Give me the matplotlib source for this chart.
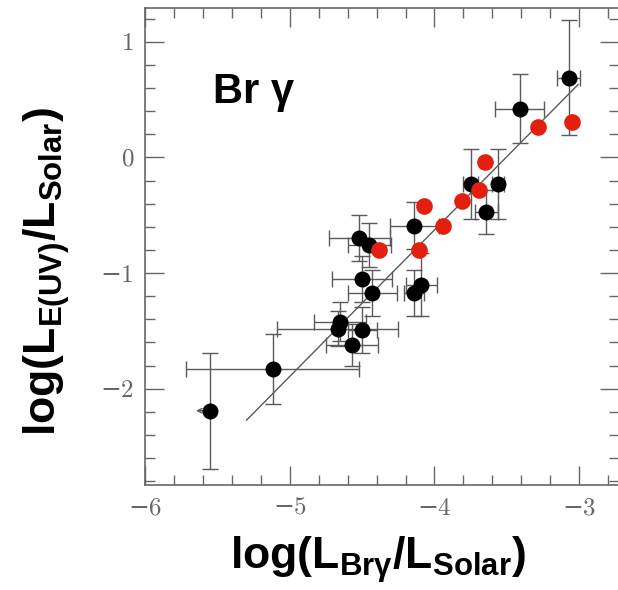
""" Br gamma vs E(UV) luminosity """
import numpy as np
import matplotlib
matplotlib.use("Agg")
import matplotlib.pyplot as plt

# black points (with error bars)
black_x = [-5.55, -5.12, -4.65, -4.67, -4.50, -4.57, -4.50, -4.43, -4.09, -4.14,
           -4.52, -4.45, -4.14, -3.75, -3.56, -3.64, -3.41, -3.07]
black_y = [-2.19, -1.83, -1.42, -1.48, -1.49, -1.62, -1.05, -1.17, -1.10, -1.17,
           -0.70, -0.76, -0.59, -0.23, -0.23, -0.47, 0.42, 0.69]
black_xerr = [0.0, 0.60, 0.18, 0.42, 0.10, 0.18, 0.21, 0.17, 0.11, 0.07,
              0.21, 0.15, 0.17, 0.05, 0.04, 0.08, 0.17, 0.08]
black_yerr = [0.50, 0.30, 0.17, 0.15, 0.20, 0.18, 0.20, 0.20, 0.27, 0.20,
              0.20, 0.19, 0.20, 0.30, 0.30, 0.19, 0.30, 0.50]
# first point is an upper limit in x
limit_index = 0

# red points
red_x = [-4.38, -4.11, -4.07, -3.94, -3.81, -3.69, -3.65, -3.28, -3.05]
red_y = [-0.80, -0.80, -0.42, -0.59, -0.38, -0.28, -0.04, 0.26, 0.31]

# fitted line
fit_slope = 1.264
fit_intercept = 4.428
fit_xrange = [-5.30, -3.005]

x_ticks = [-6, -5, -4, -3]
y_ticks = [-2, -1, 0, 1]

plt.rcParams['mathtext.fontset'] = 'custom'
plt.rcParams['mathtext.rm'] = 'Liberation Sans:bold'
plt.rcParams['mathtext.it'] = 'Liberation Sans:bold'
plt.rcParams['mathtext.bf'] = 'Liberation Sans:bold'

GRAY = '#5a5a5a'
RED = '#e3200f'


def main():
    fig = plt.figure(figsize=(6.18, 5.90), dpi=100)
    ax = fig.add_axes([0.2354, 0.178, 0.766, 0.809])

    ax.errorbar(black_x, black_y, xerr=black_xerr, yerr=black_yerr, fmt='none',
                ecolor=GRAY, elinewidth=1.0, capsize=6, capthick=1.0, zorder=2)
    fx = np.array(fit_xrange)
    ax.plot(fx, fit_slope * fx + fit_intercept, color=GRAY, lw=1.0, zorder=2)

    # arrow for the upper limit
    ax.annotate('', xy=(black_x[limit_index] - 0.10, black_y[limit_index]),
                xytext=(black_x[limit_index], black_y[limit_index]),
                arrowprops=dict(arrowstyle='->', color=GRAY, lw=1.0,
                                mutation_scale=8, shrinkA=0, shrinkB=0), zorder=2)

    ax.plot(black_x, black_y, 'o', color='black', ms=11.5, mec='none', zorder=3)
    ax.plot(red_x, red_y, 'o', color=RED, ms=12, mec='none', zorder=4)

    ax.set_xlim(-6, -2.723)
    ax.set_ylim(-2.832, 1.294)
    ax.set_xticks(x_ticks)
    ax.set_yticks(y_ticks)
    ax.set_xticks(np.arange(-6, -2.7, 0.2), minor=True)
    ax.set_yticks(np.arange(-2.8, 1.3, 0.2), minor=True)
    ax.set_xticklabels(['\u2212' + str(abs(v)) for v in x_ticks])
    ax.set_yticklabels([('\u2212' + str(abs(v))) if v < 0 else str(v) for v in y_ticks])
    for lab in ax.get_xticklabels() + ax.get_yticklabels():
        lab.set_family(['cmr10', 'DejaVu Serif'])
        lab.set_fontsize(18)
        lab.set_color('#666666')

    ax.tick_params(which='both', direction='in', top=True, right=True, color='#666666', width=1.0)
    ax.tick_params(which='major', length=13.5)
    ax.tick_params(which='minor', length=7)
    ax.tick_params(axis='x', which='major', pad=9)
    ax.tick_params(axis='y', which='major', pad=8)
    for sp in ax.spines.values():
        sp.set_color('#666666')
        sp.set_linewidth(1.2)

    ax.text(0.143, 0.80, 'Br \u03b3', transform=ax.transAxes, fontsize=30,
            fontweight='bold', family='Liberation Sans', va='baseline', ha='left')

    fig.text(0.612, 0.051, r'log(L$_{\mathrm{Br\gamma}}$/L$_{\mathrm{Solar}}$)',
             fontsize=32, fontweight='bold', family='Liberation Sans',
             ha='center', va='center')
    fig.text(0.075, 0.539, r'log(L$_{\mathrm{E(UV)}}$/L$_{\mathrm{Solar}}$)',
             fontsize=32, fontweight='bold', family='Liberation Sans',
             ha='center', va='center', rotation=90)

    fig.savefig('out.png', dpi=100)


if __name__ == "__main__":
    main()
